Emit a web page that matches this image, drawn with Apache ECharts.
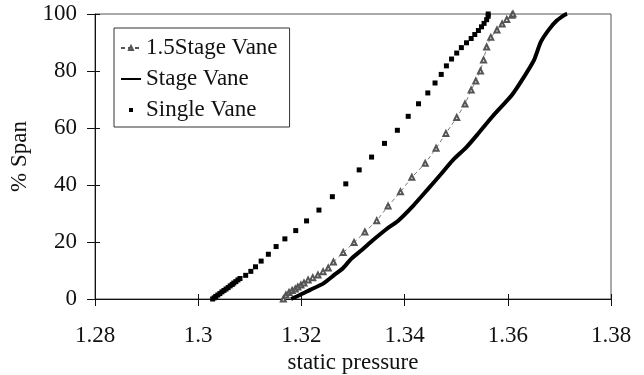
<!DOCTYPE html>
<html>
<head>
<meta charset="utf-8">
<script src="https://cdn.jsdelivr.net/npm/echarts@6/dist/echarts.min.js"></script>
<style>
html,body{margin:0;padding:0;background:#fff;}
#chart{width:644px;height:375px;}
</style>
</head>
<body>
<div id="chart"></div>
<script>
// ---- data ----
var seriesNames = ['1.5Stage Vane', 'Stage Vane', 'Single Vane'];

var stage15X = [1.3165,1.3170,1.3176,1.3182,1.3188,1.3193,1.3199,1.3205,1.3213,1.3222,1.3232,1.3242,1.3252,1.3262,1.3281,1.3302,1.3323,1.3346,1.3368,1.3392,1.3414,1.3440,1.3461,1.3480,1.3501,1.3517,1.3529,1.3538,1.3547,1.3553,1.3559,1.3567,1.3579,1.3589,1.3598,1.3608,1.3610];
var stage15Y = [0,1.4,2.3,3.0,3.5,4.2,4.9,5.6,6.7,7.5,8.4,9.6,10.9,13.0,16.3,19.8,23.5,27.5,32.6,37.6,42.7,47.6,52.9,58.1,63.7,68.4,73.3,76.5,80.0,83.9,88.4,91.8,94.4,96.5,98.1,99.6,100];

var stageX = [1.3180,1.3197,1.3217,1.3242,1.3262,1.3281,1.3296,1.3317,1.3339,1.3364,1.3387,1.3417,1.3443,1.3469,1.3494,1.3520,1.3542,1.3571,1.3608,1.3633,1.3651,1.3664,1.3680,1.3695,1.3711,1.3715];
var stageY = [0,1.4,3.2,5.4,8.2,10.9,14.0,17.2,20.7,24.4,27.4,32.8,38.1,43.5,48.8,53.3,57.9,64.2,71.6,78.4,83.9,90.2,94.6,97.7,99.8,100];

var singleX = [1.3028,1.3031,1.3034,1.3038,1.3042,1.3046,1.3050,1.3054,1.3058,1.3062,1.3066,1.3069,1.3073,1.3077,1.3081,1.3092,1.3102,1.3111,1.3122,1.3136,1.3151,1.3168,1.3189,1.3210,1.3234,1.3260,1.3286,1.3312,1.3336,1.3361,1.3386,1.3407,1.3427,1.3445,1.3459,1.3471,1.3481,1.3491,1.3501,1.3510,1.3520,1.3529,1.3536,1.3543,1.3549,1.3554,1.3559,1.3562,1.3562];
var singleY = [0,0.4,0.9,1.4,1.9,2.5,3.0,3.5,4.0,4.6,5.1,5.6,6.1,6.7,7.2,8.3,9.7,11.3,13.3,15.7,18.4,21.1,24.0,27.4,31.2,35.9,40.4,45.3,49.8,54.6,59.2,64.1,68.5,72.3,75.8,78.8,81.8,84.2,86.3,88.2,89.9,91.4,92.8,94.2,95.5,96.7,98.0,99.2,100];

var xTickLabels = ['1.28','1.3','1.32','1.34','1.36','1.38'];
var yTickLabels = ['0','20','40','60','80','100'];
var xMin = 1.28, xMax = 1.38, xStep = 0.02;
var yMin = 0, yMax = 100, yStep = 20;
var xTitle = 'static pressure';
var yTitle = '% Span';

// ---- build ----
function pairs(xs, ys) { return xs.map(function (x, i) { return [x, ys[i]]; }); }
var FONT = 'Liberation Serif';
var INK = '#111';

var chart = echarts.init(document.getElementById('chart'), null, {renderer: 'canvas'});

function xLabel(v) { return xTickLabels[Math.round((v - xMin) / xStep)]; }
function yLabel(v) { return yTickLabels[Math.round((v - yMin) / yStep)]; }

var option = {
  backgroundColor: '#fff',
  animation: false,
  grid: {left: 95, right: 33, top: 14, bottom: 76, outerBoundsMode: 'none', containLabel: false,
         show: true, borderColor: '#555', borderWidth: 1, backgroundColor: 'transparent'},
  legend: {
    orient: 'vertical', left: 114, top: 28,
    itemWidth: 20, itemHeight: 5, itemGap: 7,
    padding: [8, 12, 5, 6],
    borderColor: '#333', borderWidth: 1, backgroundColor: '#fff',
    textStyle: {fontFamily: FONT, fontSize: 23, color: INK, lineHeight: 24},
    data: [
      {name: seriesNames[0]},
      {name: seriesNames[1], itemStyle: {opacity: 0}},
      {name: seriesNames[2], lineStyle: {opacity: 0, width: 0}}
    ]
  },
  xAxis: [{
    type: 'value', min: xMin, max: xMax, interval: xStep, position: 'bottom',
    name: xTitle, nameLocation: 'middle', nameGap: 37,
    nameTextStyle: {fontFamily: FONT, fontSize: 23, color: INK},
    axisLine: {show: true, lineStyle: {color: INK, width: 1}},
    axisTick: {show: true, inside: false, length: 7, lineStyle: {color: INK}},
    axisLabel: {formatter: xLabel, fontFamily: FONT, fontSize: 23, color: INK, margin: 25},
    splitLine: {show: false}
  }, {
    type: 'value', min: xMin, max: xMax, interval: xStep, position: 'bottom',
    axisLine: {show: false},
    axisTick: {show: true, inside: true, length: 5, lineStyle: {color: INK}},
    axisLabel: {show: false}, splitLine: {show: false}
  }],
  yAxis: [{
    type: 'value', min: yMin, max: yMax, interval: yStep, position: 'left',
    name: yTitle, nameLocation: 'middle', nameGap: 62,
    nameTextStyle: {fontFamily: FONT, fontSize: 23, color: INK},
    axisLine: {show: true, lineStyle: {color: INK, width: 1}},
    axisTick: {show: true, inside: false, length: 8, lineStyle: {color: INK}},
    axisLabel: {formatter: yLabel, fontFamily: FONT, fontSize: 23, color: INK, margin: 18},
    splitLine: {show: false}
  }, {
    type: 'value', min: yMin, max: yMax, interval: yStep, position: 'left',
    axisLine: {show: false},
    axisTick: {show: true, inside: true, length: 5, lineStyle: {color: INK}},
    axisLabel: {show: false}, splitLine: {show: false}
  }],
  series: [{
    name: seriesNames[0], type: 'line', xAxisIndex: 0, yAxisIndex: 0,
    data: pairs(stage15X, stage15Y),
    symbol: 'emptyTriangle', symbolSize: 5, showSymbol: true,
    itemStyle: {color: '#555', borderWidth: 0.6},
    lineStyle: {color: '#555', width: 0.8, type: [4, 3]},
    z: 3
  }, {
    name: seriesNames[1], type: 'line', xAxisIndex: 0, yAxisIndex: 0,
    data: pairs(stageX, stageY),
    symbol: 'none', smooth: 0.2,
    itemStyle: {color: '#000'},
    lineStyle: {color: '#000', width: 4},
    z: 2
  }, {
    name: seriesNames[2], type: 'line', xAxisIndex: 0, yAxisIndex: 0,
    data: pairs(singleX, singleY),
    symbol: 'rect', symbolSize: 5, showSymbol: true,
    itemStyle: {color: '#000'},
    lineStyle: {width: 0, opacity: 0},
    z: 4
  }]
};
chart.setOption(option);
</script>
</body>
</html>
